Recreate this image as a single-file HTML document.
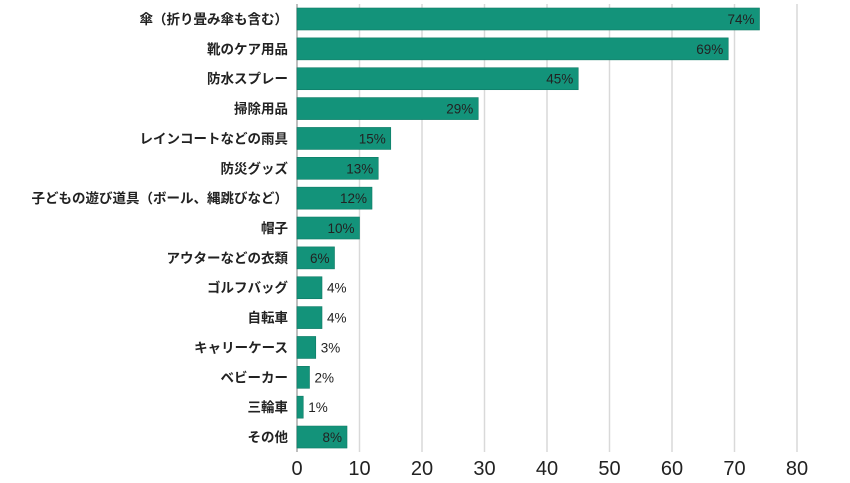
<!DOCTYPE html>
<html><head><meta charset="utf-8"><style>
body{margin:0;background:#fff;width:850px;height:478px;overflow:hidden}
svg text{font-family:"Liberation Sans","Noto Sans CJK JP",sans-serif}
</style></head><body>
<svg id="c" width="850" height="478"></svg>
<script>
const categories=["傘（折り畳み傘も含む）","靴のケア用品","防水スプレー","掃除用品","レインコートなどの雨具","防災グッズ","子どもの遊び道具（ボール、縄跳びなど）","帽子","アウターなどの衣類","ゴルフバッグ","自転車","キャリーケース","ベビーカー","三輪車","その他"];
const values=[74,69,45,29,15,13,12,10,6,4,4,3,2,1,8];
const ticks=[0,10,20,30,40,50,60,70,80];
const svg=document.getElementById('c');
const NS='http://www.w3.org/2000/svg';
const x0=297,pxPer=6.25,top0=19,step=29.86,bh=22;
const X=v=>x0+v*pxPer;
const Y=i=>top0+i*step;
function mk(t,a){const e=document.createElementNS(NS,t);for(const k in a)e.setAttribute(k,a[k]);svg.appendChild(e);return e;}
ticks.forEach(t=>{
 const l=mk('line',{x1:X(t),x2:X(t),y1:4,y2:452,stroke:t===0?'#aaa':'#d9d9d9','stroke-width':1.5});
 
 
 const tx=mk('text',{x:X(t),y:475,'text-anchor':'middle','font-size':20,fill:'#222'});
 tx.textContent=t;
 
 
});
categories.forEach((c,i)=>{
 const v=values[i],y=Y(i);
 const r=mk('rect',{x:x0,y:y-bh/2,width:v*pxPer,height:bh,fill:'#13937a',stroke:'#0f7a65','stroke-width':0.6});
 
 
 const lb=mk('text',{x:288,y:y+5,'text-anchor':'end','font-size':13.5,'font-weight':'bold',fill:'#222'});
 lb.textContent=c;
 
 
 const inside=v>=6;
 const vl=mk('text',{x:inside?X(v)-5:X(v)+5,y:y+5,'text-anchor':inside?'end':'start','font-size':13.5,fill:'#222'});
 vl.textContent=v+'%';
 
 
});
</script>
</body></html>
